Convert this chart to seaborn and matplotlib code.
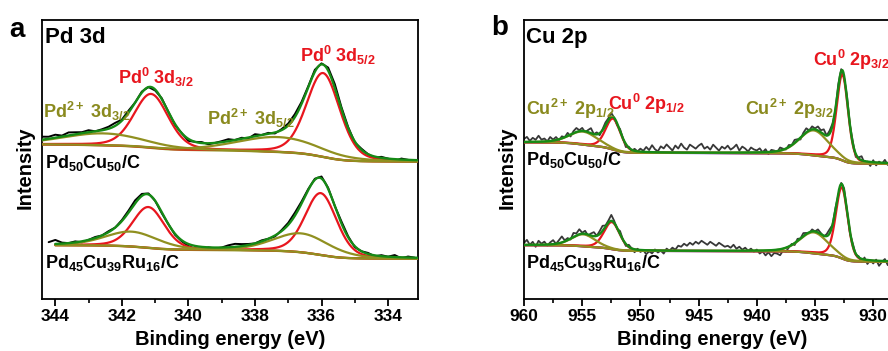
import math
import numpy as np
import matplotlib
matplotlib.use("Agg")
import matplotlib.pyplot as plt
from matplotlib.ticker import MultipleLocator
import seaborn as sns

# ---------------- Pd 3d region (panel a) ----------------
pd_xlim = (344.4, 333.1)
pd_major_ticks = [344, 342, 340, 338, 336, 334]

# Pd50Cu50/C fitted components: Pd0 3d5/2, Pd0 3d3/2, Pd2+ 3d5/2, Pd2+ 3d3/2
pd1_centers = [335.95, 341.12, 337.30, 342.55]
pd1_heights = [84, 54, 15, 12]
pd1_fwhm = [1.18, 1.22, 2.9, 2.9]
pd1_state = ["0", "0", "2+", "2+"]
pd1_group = [0, 1, 0, 1]
pd1_bg_levels = [138, 150, 156]          # low-BE side, between doublets, high-BE side
pd1_resid = [3, 2, 3, 1, 3, 2, 1, 2, 0, 1,
             2, 3, 1, 2, 0, 1, 0, -1, 1, 0,
             -1, 0, -2, 0, 1, -1, 0, 1, 2, 0,
             1, -1, 2, 0, 1, -1, 1, 2, 3, 2,
             1, 2, 1, 3, 4, 2, 1, -1, 1, 0,
             -1, 1, 0, -2, 1, 0, -1]

# Pd45Cu39Ru16/C fitted components
pd2_centers = [336.02, 341.20, 336.60, 341.70]
pd2_heights = [62, 41, 19, 15]
pd2_fwhm = [1.12, 1.12, 2.0, 1.9]
pd2_state = ["0", "0", "2+", "2+"]
pd2_group = [0, 1, 0, 1]
pd2_bg_levels = [41, 50, 55]
pd2_resid = [2, 4, 1, 0, 1, -1, 0, 1, 0, 1,
             0, 1, 2, 3, 2, 1, 0, -1, 0, -1,
             -1, -2, -3, -2, 0, -1, 0, 2, 3, 2,
             1, 0, 1, 0, -1, 1, 2, 3, 2, 1,
             1, 2, 1, 0, 2, 1, -1, 0, 1, -1,
             1, 0, 2, -1, 1, 0]

# ---------------- Cu 2p region (panel b) ----------------
cu_xlim = (960, 927.7)
cu_major_ticks = [960, 955, 950, 945, 940, 935, 930]

# Pd50Cu50/C fitted components: Cu0 2p3/2, Cu2+ 2p3/2, Cu0 2p1/2, Cu2+ 2p1/2
cu1_centers = [932.65, 935.10, 952.35, 954.90]
cu1_heights = [86, 25, 31, 13]
cu1_fwhm = [1.15, 2.9, 1.5, 2.8]
cu1_state = ["0", "2+", "0", "2+"]
cu1_group = [0, 0, 1, 1]
cu1_bg_levels = [136, 147, 158]
cu1_resid = [3, 5, 1, 4, 2, 6, 2, 3, 0, 4,
             1, 3, -1, 2, 0, 3, -2, 2, 4, 1,
             3, -1, 2, 5, 0, 2, -2, 1, 3, 2,
             4, 0, -2, 2, 0, -3, 1, -1, 2, 0,
             3, 1, 5, 2, 7, 3, 1, 6, 4, 8,
             5, 2, 7, 4, 9, 5, 3, 8, 6, 4,
             7, 9, 4, 6, 3, 8, 5, 2, 6, 4,
             7, 3, 5, 8, 2, 6, 4, 1, 5, 3,
             2, 4, 0, 3, -2, 2, 1, -1, 3, 1,
             -1, 2, 0, 3, 1, -2, 2, 4, 0, 3,
             1, 4, 2, 5, 0, 3, 2, -1, 3, 2,
             -2, 3, 0, 2, -3, 1, 4, -2, 0, -4,
             2, -3, 1, -1, 3, -2, 0, 2, -3, 1]

# Pd45Cu39Ru16/C fitted components
cu2_centers = [932.70, 935.10, 952.45, 954.90]
cu2_heights = [71, 21, 27, 12]
cu2_fwhm = [1.2, 2.8, 1.6, 2.4]
cu2_state = ["0", "2+", "0", "2+"]
cu2_group = [0, 0, 1, 1]
cu2_bg_levels = [38, 49, 55]
cu2_resid = [2, 5, 0, 3, -2, 4, 1, 3, -1, 2,
             4, 0, 3, 6, 1, 2, -1, 4, 2, 5,
             1, 3, -1, 2, 4, 0, 3, 5, 1, 2,
             6, 2, -1, 3, 0, -2, 2, 0, -3, 1,
             -2, 0, -4, -1, -3, 1, -2, 0, -3, 2,
             0, 3, 1, 5, 4, 7, 5, 8, 6, 9,
             7, 10, 8, 6, 9, 7, 5, 8, 6, 4,
             5, 3, 6, 2, 4, 1, 3, 0, 2, -1,
             1, -3, -1, -5, -2, -6, -3, -4, -6, -2,
             -4, -1, 1, -2, 2, 0, 3, 1, -1, 2,
             0, 3, 1, -1, 2, 4, 0, 2, -2, 1,
             3, 0, -2, 2, -1, 1, -3, 2, -4, 0,
             -3, 1, -5, -1, 2, -4, 0, -2, 1, -3]

ETA = 0.25  # Lorentzian fraction of the pseudo-Voigt line shape

RED = "#e8161e"
OLIVE = "#909020"
GREEN = "#168a16"
BLUE = "#1a1ae0"
OLIVE_TXT = "#8a8a1e"

_erf = np.vectorize(math.erf)


def pseudo_voigt(x, c, h, fwhm, eta=ETA):
    u = (x - c) / fwhm
    return h * ((1 - eta) * np.exp(-4 * np.log(2) * u ** 2) + eta / (1 + 4 * u ** 2))


def pseudo_voigt_cdf(x, c, h, fwhm, eta=ETA):
    sigma = fwhm / (2 * np.sqrt(2 * np.log(2)))
    gam = fwhm / 2
    g = sigma * np.sqrt(2 * np.pi) * 0.5 * (1 + _erf((x - c) / (sigma * np.sqrt(2))))
    l = gam * (np.pi / 2 + np.arctan((x - c) / gam))
    return h * ((1 - eta) * g + eta * l)


def peak_area(h, fwhm, eta=ETA):
    sigma = fwhm / (2 * np.sqrt(2 * np.log(2)))
    return h * ((1 - eta) * sigma * np.sqrt(2 * np.pi) + eta * np.pi * fwhm / 2)


def shirley(x, centers, heights, fwhm, group, levels):
    """Two-step Shirley-type background, one step per spin-orbit group."""
    bg = np.full_like(x, float(levels[0]))
    for g in (0, 1):
        idx = [i for i in range(len(centers)) if group[i] == g]
        total = sum(peak_area(heights[i], fwhm[i]) for i in idx)
        cum = sum(pseudo_voigt_cdf(x, centers[i], heights[i], fwhm[i]) for i in idx)
        bg = bg + (levels[g + 1] - levels[g]) * cum / total
    return bg


def fit_curves(x, centers, heights, fwhm, group, levels):
    bg = shirley(x, centers, heights, fwhm, group, levels)
    comps = [bg + pseudo_voigt(x, c, h, w) for c, h, w in zip(centers, heights, fwhm)]
    total = bg + sum(pseudo_voigt(x, c, h, w) for c, h, w in zip(centers, heights, fwhm))
    return bg, comps, total


def line(ax, x, y, color, lw, z):
    sns.lineplot(x=x, y=y, ax=ax, color=color, linewidth=lw, sort=False,
                 estimator=None, zorder=z, legend=False)


def draw_spectrum(ax, x_fit, x_raw, centers, heights, fwhm, state, group, levels,
                  resid, raw_color, raw_lw, bg_color):
    bg, comps, total = fit_curves(x_fit, centers, heights, fwhm, group, levels)
    _, _, total_raw = fit_curves(x_raw, centers, heights, fwhm, group, levels)
    raw = total_raw + np.asarray(resid, dtype=float)
    line(ax, x_raw, raw, raw_color, raw_lw, 1)
    line(ax, x_fit, bg, bg_color, 1.6, 2)
    for comp, st in zip(comps, state):
        if st == "0":
            line(ax, x_fit, comp, RED, 1.6, 3)
    for comp, st in zip(comps, state):
        if st != "0":
            line(ax, x_fit, comp, OLIVE, 1.6, 3.5)
    line(ax, x_fit, total, GREEN, 1.7, 4)


sns.set_theme(style="ticks")
plt.rcParams.update({
    "font.family": ["Liberation Sans", "DejaVu Sans"],
    "font.weight": "bold",
    "mathtext.fontset": "custom",
    "mathtext.rm": "Liberation Sans:bold",
    "mathtext.it": "Liberation Sans:bold",
    "mathtext.bf": "Liberation Sans:bold",
    "mathtext.sf": "Liberation Sans:bold",
    "mathtext.default": "rm",
    "axes.edgecolor": "black",
    "axes.linewidth": 1.3,
    "xtick.color": "black",
    "text.color": "black",
})

W, H = 888, 351
fig = plt.figure(figsize=(W / 100, H / 100), dpi=100)


def axes_px(left, top, right, bottom):
    return fig.add_axes([left / W, 1 - bottom / H, (right - left) / W, (bottom - top) / H])


def text_px(x, y, s, **kw):
    fig.text(x / W, 1 - y / H, s, **kw)


ax_a = axes_px(42, 20, 418, 299)
ax_b = axes_px(524, 20, 900, 299)

# panel a spectra
x_fit_a1 = np.arange(344.4, 333.1, -0.02)
x_fit_a2 = np.arange(344.0, 333.1, -0.02)
x_raw_a1 = np.round(np.arange(344.4, 333.19, -0.2), 2)
x_raw_a2 = np.round(np.arange(344.2, 333.19, -0.2), 2)
draw_spectrum(ax_a, x_fit_a1, x_raw_a1, pd1_centers, pd1_heights, pd1_fwhm, pd1_state,
              pd1_group, pd1_bg_levels, pd1_resid, "black", 1.4, OLIVE)
draw_spectrum(ax_a, x_fit_a2, x_raw_a2, pd2_centers, pd2_heights, pd2_fwhm, pd2_state,
              pd2_group, pd2_bg_levels, pd2_resid, "black", 1.4, OLIVE)

# panel b spectra
x_fit_b = np.arange(960.0, 927.6, -0.02)
x_raw_b = np.round(np.arange(960.0, 927.7, -0.25), 2)
draw_spectrum(ax_b, x_fit_b, x_raw_b, cu1_centers, cu1_heights, cu1_fwhm, cu1_state,
              cu1_group, cu1_bg_levels, cu1_resid, "#383838", 1.3, BLUE)
draw_spectrum(ax_b, x_fit_b, x_raw_b, cu2_centers, cu2_heights, cu2_fwhm, cu2_state,
              cu2_group, cu2_bg_levels, cu2_resid, "#383838", 1.3, BLUE)

for ax, xlim, ticks, minor in ((ax_a, pd_xlim, pd_major_ticks, 1.0),
                               (ax_b, cu_xlim, cu_major_ticks, 2.5)):
    ax.set_xlim(*xlim)
    ax.set_ylim(1, 280)
    ax.set_xticks(ticks)
    ax.set_xticklabels([str(t) for t in ticks])
    ax.xaxis.set_minor_locator(MultipleLocator(minor))
    ax.set_yticks([])
    ax.set_xlabel("")
    ax.set_ylabel("")
    ax.tick_params(axis="x", which="major", direction="out", length=5, width=1.3,
                   labelsize=12.5, pad=2)
    ax.tick_params(axis="x", which="minor", direction="out", length=3, width=1.2)
    for sp in ax.spines.values():
        sp.set_visible(True)
        sp.set_color("black")
    for lab in ax.get_xticklabels():
        lab.set_fontweight("bold")

# panel letters and region titles
text_px(9, 37, "a", fontsize=20, fontweight="bold", va="baseline")
text_px(491, 35, "b", fontsize=20, fontweight="bold", va="baseline")
text_px(45, 43, "Pd 3d", fontsize=16, fontweight="bold", va="baseline")
text_px(526, 43, "Cu 2p", fontsize=16, fontweight="bold", va="baseline")

# peak labels, panel a
text_px(118, 84, r"Pd$^{0}$ 3d$_{3/2}$", fontsize=13, color=RED, va="baseline")
text_px(300, 62, r"Pd$^{0}$ 3d$_{5/2}$", fontsize=13, color=RED, va="baseline")
text_px(43, 118, r"Pd$^{2+}$ 3d$_{3/2}$", fontsize=13, color=OLIVE_TXT, va="baseline")
text_px(207, 125, r"Pd$^{2+}$ 3d$_{5/2}$", fontsize=13, color=OLIVE_TXT, va="baseline")
text_px(45, 168, r"Pd$_{50}$Cu$_{50}$/C", fontsize=13, va="baseline")
text_px(45, 268, r"Pd$_{45}$Cu$_{39}$Ru$_{16}$/C", fontsize=13, va="baseline")

# peak labels, panel b
text_px(526, 115, r"Cu$^{2+}$ 2p$_{1/2}$", fontsize=13, color=OLIVE_TXT, va="baseline")
text_px(608, 110, r"Cu$^{0}$ 2p$_{1/2}$", fontsize=13, color=RED, va="baseline")
text_px(745, 115, r"Cu$^{2+}$ 2p$_{3/2}$", fontsize=13, color=OLIVE_TXT, va="baseline")
text_px(813, 66, r"Cu$^{0}$ 2p$_{3/2}$", fontsize=13, color=RED, va="baseline")
text_px(526, 165, r"Pd$_{50}$Cu$_{50}$/C", fontsize=13, va="baseline")
text_px(526, 268, r"Pd$_{45}$Cu$_{39}$Ru$_{16}$/C", fontsize=13, va="baseline")

# axis titles
for xc in (25, 507):
    text_px(xc, 168, "Intensity", fontsize=14.5, fontweight="bold", rotation=90,
            ha="center", va="center")
for xc in (230, 712):
    text_px(xc, 345, "Binding energy (eV)", fontsize=14.5, fontweight="bold",
            ha="center", va="baseline")

fig.savefig("out.png", dpi=100)
